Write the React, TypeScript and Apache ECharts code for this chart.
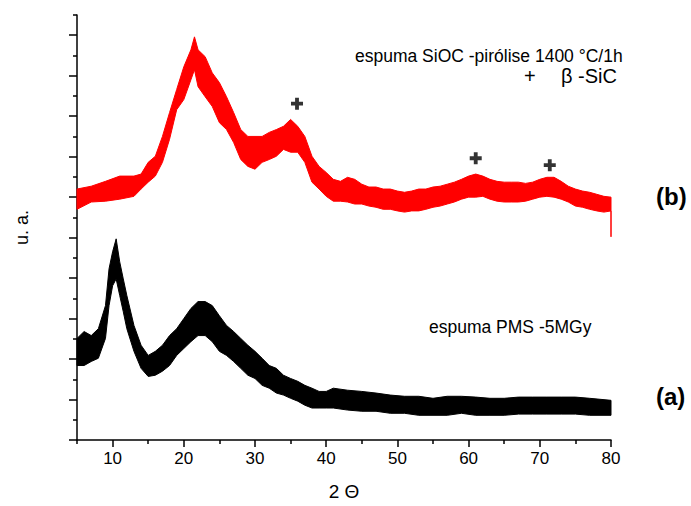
import React, { useEffect, useRef } from "react";
import * as echarts from "echarts";

// 2θ positions (degrees) where the band edges were read
const redX = [5, 7, 9, 11, 13, 14, 15, 16, 17, 18, 19, 20, 21, 21.5, 22, 23, 24, 25, 26, 27, 28, 29, 30, 31, 32, 33, 34, 35, 36, 37, 38, 39, 40, 41, 42, 43, 44, 45, 46, 47, 48, 49, 50, 51, 52, 53, 54, 55, 56, 57, 58, 59, 60, 61, 62, 63, 64, 65, 66, 67, 68, 69, 70, 71, 72, 73, 74, 75, 76, 77, 78, 79, 80, 80];
// (b) espuma SiOC – upper and lower edges of the noisy trace (u. a.)
const redHi = [6.2, 6.27, 6.39, 6.52, 6.52, 6.57, 6.86, 7.01, 7.5, 8.09, 8.66, 9.22, 9.64, 9.96, 9.64, 9.47, 9.07, 8.83, 8.48, 8.09, 7.67, 7.5, 7.5, 7.5, 7.6, 7.67, 7.75, 7.92, 7.75, 7.5, 7.01, 6.76, 6.61, 6.44, 6.39, 6.49, 6.44, 6.32, 6.25, 6.25, 6.2, 6.2, 6.15, 6.12, 6.15, 6.2, 6.2, 6.25, 6.27, 6.32, 6.37, 6.44, 6.52, 6.57, 6.52, 6.44, 6.39, 6.37, 6.37, 6.37, 6.34, 6.37, 6.44, 6.49, 6.49, 6.39, 6.27, 6.2, 6.15, 6.12, 6.07, 6.02, 6.0, 5.66];
const redLo = [5.7, 5.88, 5.9, 5.95, 6.02, 6.2, 6.37, 6.52, 6.86, 7.43, 8.16, 8.41, 8.9, 9.15, 8.73, 8.48, 8.24, 7.84, 7.67, 7.35, 6.93, 6.76, 6.69, 6.86, 6.93, 7.01, 7.18, 7.11, 7.11, 6.86, 6.37, 6.2, 6.02, 5.9, 5.9, 5.88, 5.83, 5.83, 5.78, 5.75, 5.7, 5.7, 5.66, 5.63, 5.66, 5.66, 5.7, 5.75, 5.78, 5.83, 5.88, 5.95, 6.0, 6.0, 6.02, 5.95, 5.9, 5.88, 5.88, 5.88, 5.9, 5.95, 6.0, 6.02, 6.0, 5.95, 5.88, 5.78, 5.75, 5.7, 5.66, 5.63, 5.66, 5.02];

const blackX = [5, 6, 7, 8, 9, 9.5, 10, 10.5, 11, 11.5, 12, 13, 14, 15, 16, 17, 18, 19, 20, 21, 22, 23, 24, 25, 26, 27, 28, 29, 30, 31, 32, 33, 34, 35, 36, 37, 38, 39, 40, 41, 43, 45, 47, 49, 51, 53, 55, 57, 59, 61, 63, 65, 67, 69, 71, 73, 75, 77, 80];
// (a) espuma PMS -5MGy – upper and lower edges of the noisy trace (u. a.)
const blackHi = [2.51, 2.68, 2.58, 2.75, 3.32, 4.23, 4.65, 4.97, 4.4, 3.98, 3.57, 2.83, 2.34, 2.09, 2.19, 2.34, 2.58, 2.75, 3.0, 3.25, 3.42, 3.42, 3.32, 3.07, 2.83, 2.68, 2.51, 2.34, 2.19, 2.02, 1.84, 1.77, 1.6, 1.52, 1.45, 1.35, 1.28, 1.2, 1.2, 1.28, 1.23, 1.2, 1.16, 1.11, 1.08, 1.08, 1.03, 1.08, 1.08, 1.06, 1.03, 1.03, 1.06, 1.06, 1.06, 1.06, 1.06, 1.03, 0.98];
const blackLo = [1.84, 1.84, 1.94, 2.02, 2.51, 3.32, 3.81, 3.98, 3.57, 3.17, 2.75, 2.19, 1.77, 1.57, 1.6, 1.7, 1.84, 2.09, 2.26, 2.43, 2.58, 2.58, 2.43, 2.19, 2.09, 1.94, 1.77, 1.6, 1.52, 1.35, 1.28, 1.16, 1.11, 1.03, 0.96, 0.86, 0.79, 0.79, 0.79, 0.79, 0.74, 0.71, 0.71, 0.66, 0.66, 0.61, 0.61, 0.61, 0.66, 0.61, 0.61, 0.61, 0.64, 0.64, 0.64, 0.64, 0.64, 0.61, 0.61];

// β-SiC reflections marked with "+"
const sicX = [35.9, 61.0, 71.4];
const sicY = [8.31, 6.96, 6.79];

const xMajorTicks = [10, 20, 30, 40, 50, 60, 70, 80];
const xMinorTicks = [5, 15, 25, 35, 45, 55, 65, 75];
const yMajorTicks = [0, 1, 2, 3, 4, 5, 6, 7, 8, 9, 10];
const yMinorTicks = [0.5, 1.5, 2.5, 3.5, 4.5, 5.5, 6.5, 7.5, 8.5, 9.5, 10.5];

const FONT = "'Liberation Sans', Arial, sans-serif";
const PLUS = "path://M3.4,0H6.6V3.4H10V6.6H6.6V10H3.4V6.6H0V3.4H3.4Z";

function bandSeries(name: string, xs: number[], lo: number[], hi: number[], color: string) {
  const pts: number[][] = [];
  xs.forEach((x, i) => pts.push([x, hi[i]]));
  for (let i = xs.length - 1; i >= 0; i--) pts.push([xs[i], lo[i]]);
  return {
    name,
    type: "custom",
    silent: true,
    data: [[xs[0], lo[0]]],
    z: 2,
    renderItem: (_params: any, api: any) => ({
      type: "polygon",
      shape: { points: pts.map((p) => api.coord(p)) },
      style: { fill: color, stroke: color, lineWidth: 1 },
    }),
  };
}

export default function App() {
  const ref = useRef<HTMLDivElement>(null);
  useEffect(() => {
    if (!ref.current) return;
    const chart = echarts.init(ref.current, undefined, { renderer: "svg" });
    const axisLine = { show: true, lineStyle: { color: "#000", width: 1.5 } };
    chart.setOption({
      animation: false,
      backgroundColor: "#fff",
      grid: { left: 77, right: 80, top: 15, bottom: 64 },
      xAxis: [
        {
          type: "value",
          min: 5,
          max: 80,
          interval: 5,
          position: "bottom",
          axisLine,
          axisTick: { show: true, customValues: xMajorTicks, length: 7, lineStyle: { color: "#000", width: 1.5 } },
          axisLabel: { customValues: xMajorTicks, color: "#000", fontSize: 17, fontFamily: FONT, margin: 10 },
          splitLine: { show: false },
          name: "2 Θ",
          nameLocation: "middle",
          nameGap: 42,
          nameTextStyle: { color: "#000", fontSize: 19, fontFamily: FONT },
        },
        {
          type: "value",
          min: 5,
          max: 80,
          interval: 5,
          position: "bottom",
          offset: 0,
          axisLine: { show: false },
          axisTick: { show: true, customValues: xMinorTicks, length: 4, lineStyle: { color: "#000", width: 1.5 } },
          axisLabel: { show: false },
          splitLine: { show: false },
        },
      ],
      yAxis: [
        {
          type: "value",
          min: 0,
          max: 10.5,
          position: "left",
          axisLine,
          axisTick: { show: true, customValues: yMajorTicks, length: 8, lineStyle: { color: "#000", width: 1.5 } },
          axisLabel: { show: false },
          splitLine: { show: false },
          name: "u. a.",
          nameLocation: "middle",
          nameRotate: 90,
          nameGap: 46,
          nameTextStyle: { color: "#000", fontSize: 18, fontFamily: FONT },
        },
        {
          type: "value",
          min: 0,
          max: 10.5,
          position: "left",
          offset: 0,
          axisLine: { show: false },
          axisTick: { show: true, customValues: yMinorTicks, length: 4, lineStyle: { color: "#000", width: 1.5 } },
          axisLabel: { show: false },
          splitLine: { show: false },
        },
      ],
      series: [
        bandSeries("b", redX, redLo, redHi, "#ff0000"),
        bandSeries("a", blackX, blackLo, blackHi, "#000000"),
        {
          name: "β-SiC",
          type: "scatter",
          symbol: PLUS,
          symbolSize: 12,
          itemStyle: { color: "#000" },
          silent: true,
          data: sicX.map((x, i) => [x, sicY[i]]),
          z: 5,
        },
      ],
      graphic: [
        {
          type: "text",
          left: 355,
          top: 47,
          style: { text: "espuma SiOC -pirólise 1400 °C/1h", fontSize: 17.5, fontFamily: FONT, fill: "#000" },
        },
        {
          type: "text",
          left: 524,
          top: 66,
          style: { text: "+", fontSize: 20, fontFamily: FONT, fill: "#000" },
        },
        {
          type: "text",
          left: 561,
          top: 66,
          style: { text: "β -SiC", fontSize: 20, fontFamily: FONT, fill: "#000" },
        },
        {
          type: "text",
          left: 429,
          top: 318,
          style: { text: "espuma PMS -5MGy", fontSize: 17.5, fontFamily: FONT, fill: "#000" },
        },
        {
          type: "text",
          left: 656,
          top: 184,
          style: { text: "(b)", fontSize: 24, fontWeight: "bold", fontFamily: FONT, fill: "#000" },
        },
        {
          type: "text",
          left: 656,
          top: 384,
          style: { text: "(a)", fontSize: 24, fontWeight: "bold", fontFamily: FONT, fill: "#000" },
        },
      ],
    });
    return () => chart.dispose();
  }, []);
  return (
    <div
      ref={ref}
      style={{ position: "fixed", left: 0, top: 0, width: 691, height: 506, background: "#fff" }}
    />
  );
}
